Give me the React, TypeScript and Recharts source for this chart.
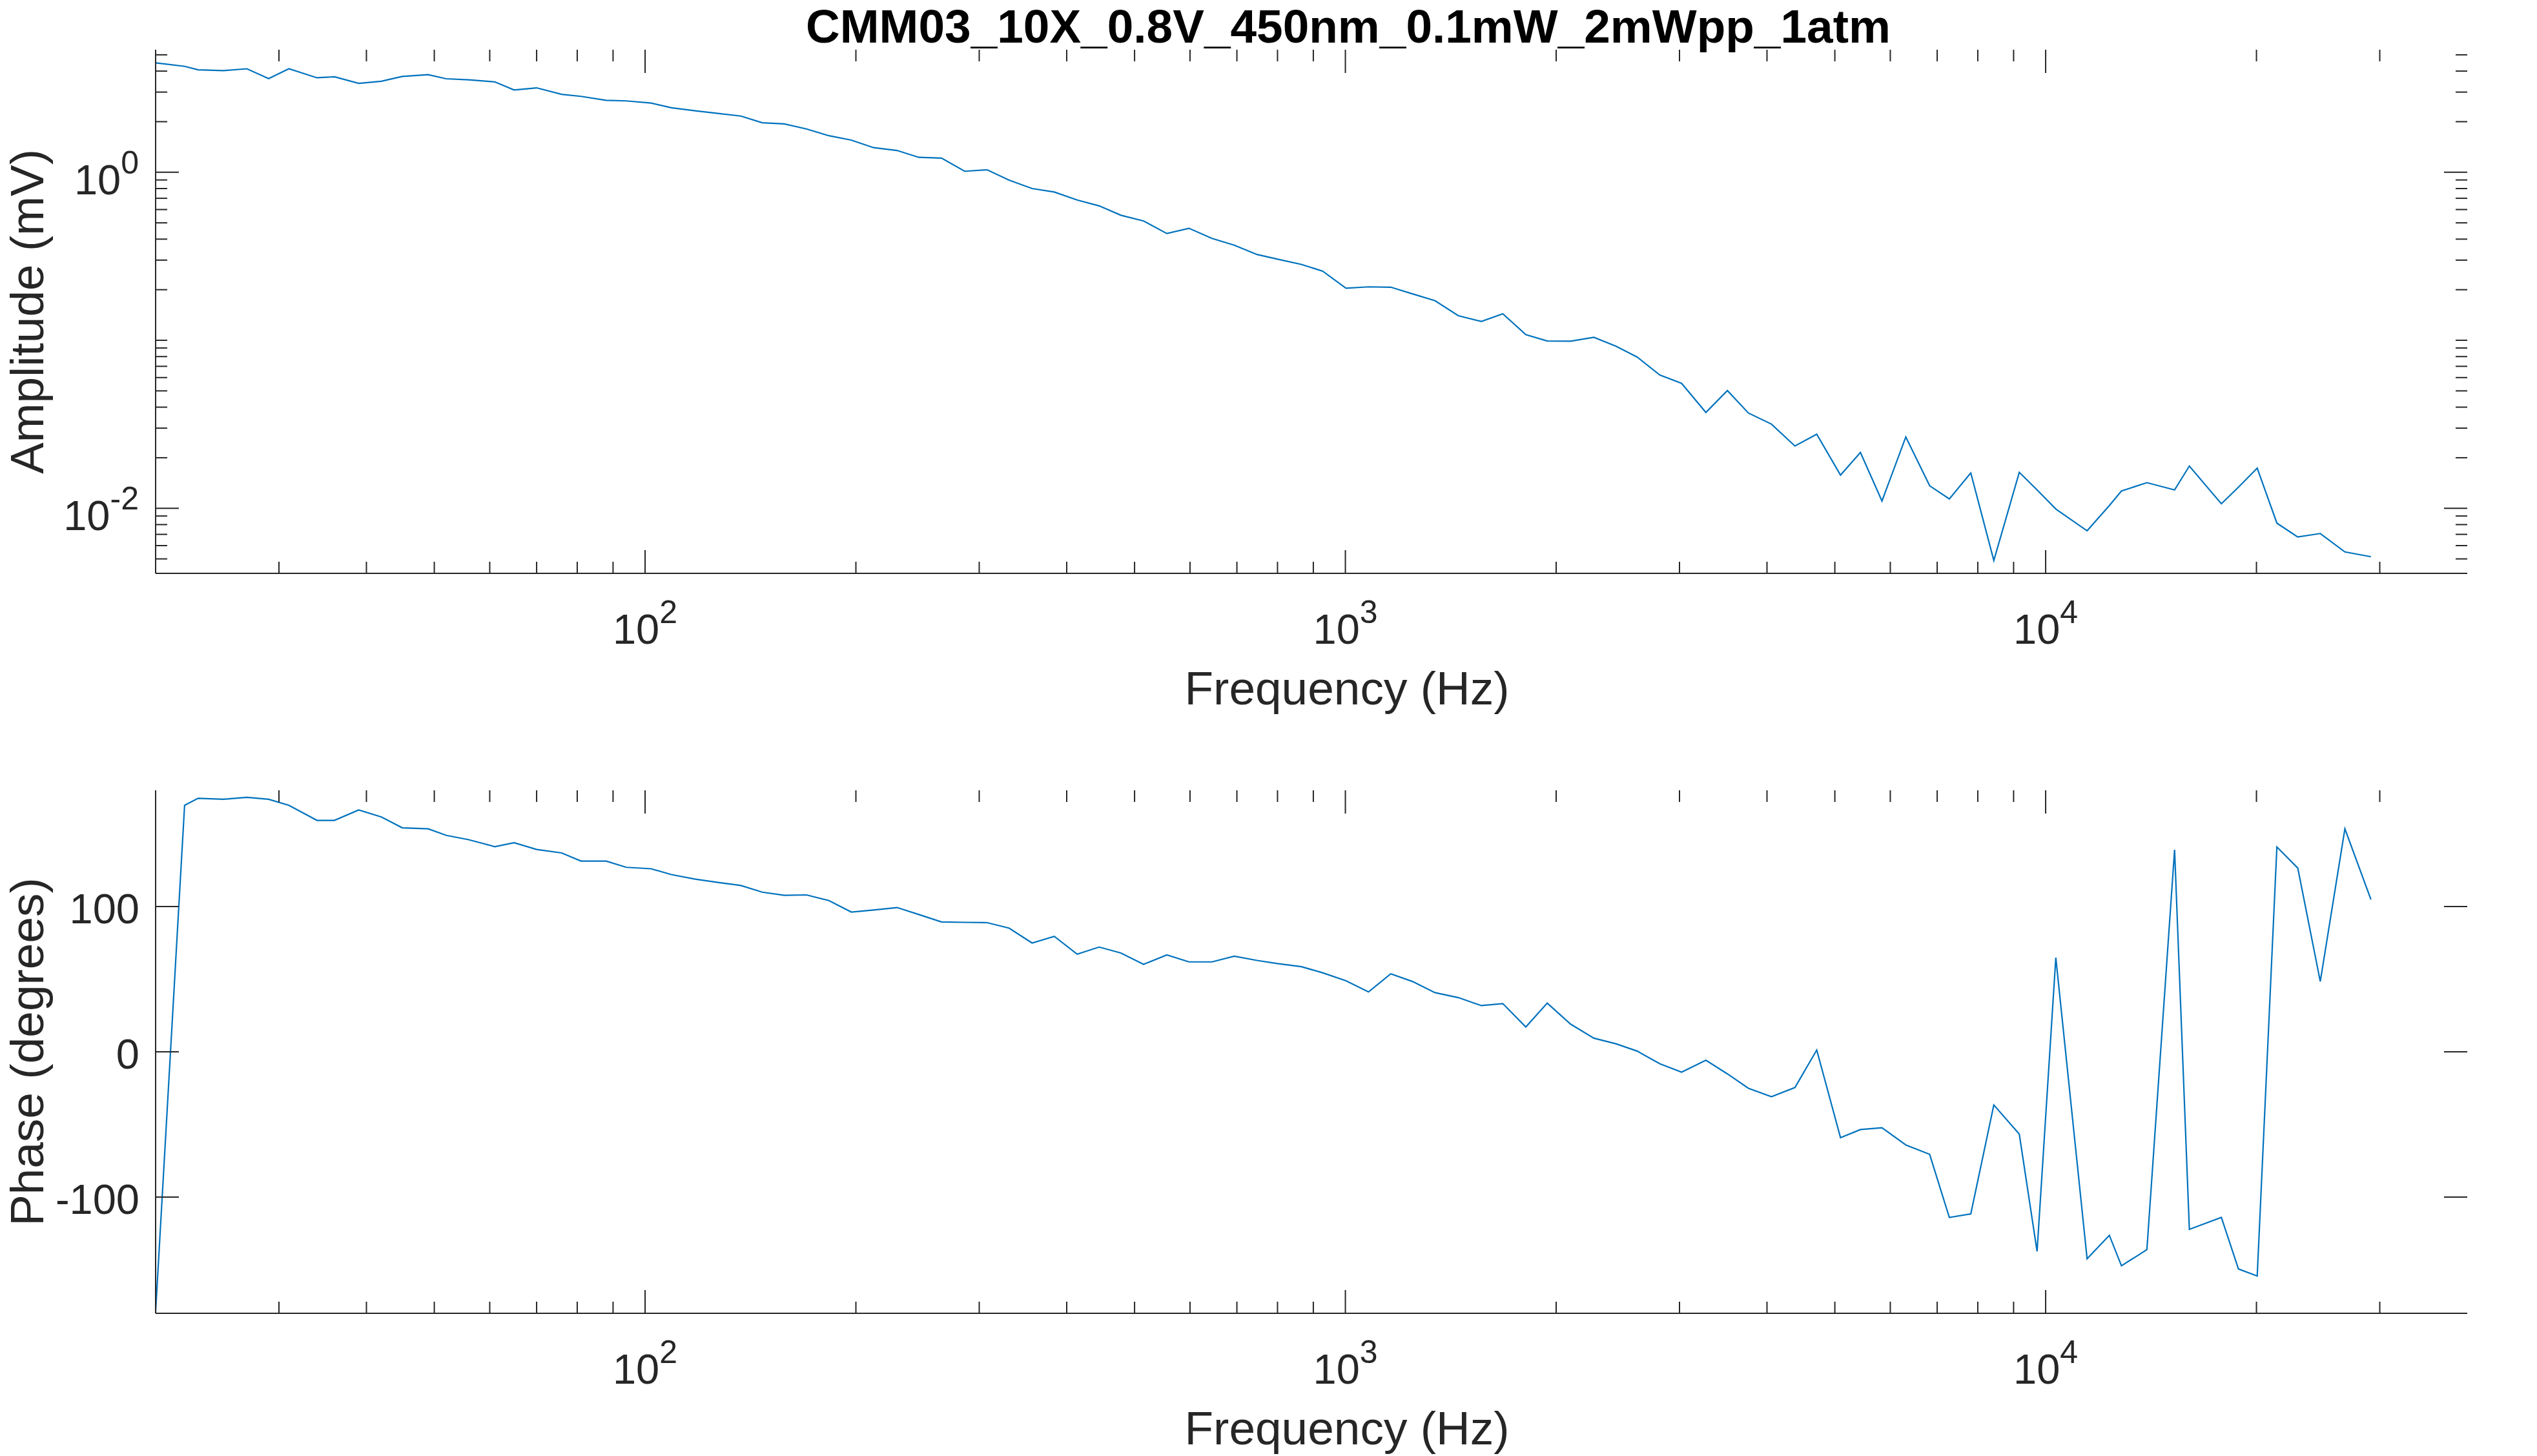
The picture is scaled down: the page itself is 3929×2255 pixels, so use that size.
import React from "react";
import { Line, LineChart, XAxis, YAxis } from "recharts";

// frequency sweep points (Hz)
const FREQ = [
  20, 22, 23, 25, 27, 29, 31, 34, 36, 39,
  42, 45, 49, 52, 56, 61, 65, 70, 76, 81,
  88, 94, 102, 109, 118, 127, 137, 147, 158, 170,
  183, 197, 212, 229, 246, 265, 286, 308, 331, 357,
  384, 414, 445, 478, 515, 556, 598, 645, 694, 748,
  800, 865, 928, 1002, 1079, 1161, 1247, 1343, 1450, 1564,
  1678, 1810, 1942, 2098, 2264, 2435, 2610, 2812, 3021, 3272,
  3512, 3763, 4059, 4385, 4711, 5094, 5439, 5838, 6314, 6829,
  7286, 7818, 8433, 9170, 9722, 10340, 11460, 12330, 12830, 13950,
  15280, 16040, 17820, 18850, 20050, 21390, 22910, 24670, 26750, 29140,
];

// amplitude (mV)
const AMP = [
  4.48, 4.27, 4.07, 4.03, 4.13, 3.61, 4.13, 3.65, 3.7, 3.38,
  3.48, 3.72, 3.81, 3.6, 3.55, 3.45, 3.09, 3.18, 2.91, 2.83,
  2.68, 2.66, 2.58, 2.42, 2.32, 2.24, 2.16, 1.97, 1.94, 1.81,
  1.65, 1.554, 1.401, 1.348, 1.227, 1.215, 1.014, 1.034, 0.897, 0.8,
  0.763, 0.684, 0.631, 0.555, 0.513, 0.432, 0.464, 0.404, 0.368, 0.324,
  0.304, 0.283, 0.258, 0.204, 0.208, 0.207, 0.189, 0.172, 0.14, 0.1295,
  0.1438, 0.1081, 0.099, 0.0989, 0.1041, 0.0921, 0.0795, 0.0621, 0.0554, 0.0372,
  0.0502, 0.0369, 0.0317, 0.0235, 0.0276, 0.01577, 0.0215, 0.01105, 0.0266, 0.01362,
  0.01137, 0.01623, 0.00489, 0.01638, 0.01287, 0.00991, 0.00735, 0.01039, 0.01268, 0.01421,
  0.01287, 0.01785, 0.01064, 0.01336, 0.01734, 0.00816, 0.00675, 0.00708, 0.0055, 0.00515,
];

// phase (degrees)
const PHASE = [
  -179, 169.7, 174.5, 173.8, 175.2, 173.8, 169.7, 159.3, 159.3, 166.5,
  161.7, 154.2, 153.5, 149, 146, 141.2, 143.9, 139.3, 136.9, 131.3,
  131.3, 127, 126, 122, 118.8, 116.6, 114.5, 109.9, 107.7, 108,
  104.1, 96.2, 97.6, 99.3, 94.5, 89.4, 89.1, 88.9, 85.1, 74.9,
  79.5, 67.2, 72.1, 68, 60.2, 66.7, 61.9, 61.9, 65.8, 62.9,
  60.7, 58.6, 54.4, 48.9, 41.2, 53.7, 48.4, 40.7, 37.3, 31.8,
  33.2, 17.1, 33.5, 19, 9.4, 5.5, 0.5, -8.2, -14, -5.8,
  -15.2, -25.1, -30.9, -24.6, 1.2, -59.1, -53.5, -52.3, -64.1, -70.6,
  -114, -111.6, -36.6, -56.7, -137.4, 64.8, -142.5, -126.3, -147.3, -136.2,
  139.1, -122.2, -114, -149.5, -154.3, 141, 126.5, 48.4, 153.5, 104.8,
];

const X_DOMAIN = [20, 40000];
const X_MAJOR = [100, 1000, 10000];
const X_TICKS = [
  30, 40, 50, 60, 70, 80, 90, 100,
  200, 300, 400, 500, 600, 700, 800, 900, 1000,
  2000, 3000, 4000, 5000, 6000, 7000, 8000, 9000, 10000,
  20000, 30000,
];
const AMP_DOMAIN = [0.004101, 5.362];
const AMP_MAJOR = [0.01, 1];
const AMP_TICKS = [
  0.005, 0.006, 0.007, 0.008, 0.009, 0.01,
  0.02, 0.03, 0.04, 0.05, 0.06, 0.07, 0.08, 0.09, 0.1,
  0.2, 0.3, 0.4, 0.5, 0.6, 0.7, 0.8, 0.9, 1,
  2, 3, 4, 5,
];
const PHASE_DOMAIN = [-180, 180];
const PHASE_TICKS = [-100, 0, 100];

const W = 3929;
const LEFT = 241;
const RIGHT = 3821;
const INK = "#262626";
const BLUE = "#0072BD";
const FONT = '"Liberation Sans", Arial, Helvetica, sans-serif';
const LABEL_X = 2086;

const ampData = FREQ.map((f, i) => ({ f, amp: AMP[i] }));
const phaseData = FREQ.map((f, i) => ({ f, phase: PHASE[i] }));

const axisLine = { stroke: INK, strokeWidth: 2 };

const xTick = (top: number, bottom: number) => (p: any) => {
  const v = p.payload.value;
  const major = X_MAJOR.includes(v);
  const len = major ? 36 : 18;
  return (
    <g>
      <line x1={p.x} x2={p.x} y1={bottom} y2={bottom - len} stroke={INK} strokeWidth={2} />
      <line x1={p.x} x2={p.x} y1={top} y2={top + len} stroke={INK} strokeWidth={2} />
      {major && (
        <text x={p.x} y={bottom + 109} textAnchor="middle" fontSize={65} fill={INK} fontFamily={FONT}>
          10
          <tspan dy={-32} fontSize={50}>
            {Math.round(Math.log10(v))}
          </tspan>
        </text>
      )}
    </g>
  );
};

const ampTick = (p: any) => {
  const v = p.payload.value;
  const major = AMP_MAJOR.includes(v);
  const len = major ? 36 : 18;
  return (
    <g>
      <line x1={LEFT} x2={LEFT + len} y1={p.y} y2={p.y} stroke={INK} strokeWidth={2} />
      <line x1={RIGHT} x2={RIGHT - len} y1={p.y} y2={p.y} stroke={INK} strokeWidth={2} />
      {major && (
        <text x={215} y={p.y + 34} textAnchor="end" fontSize={65} fill={INK} fontFamily={FONT}>
          10
          <tspan dy={-32} fontSize={50}>
            {Math.round(Math.log10(v))}
          </tspan>
        </text>
      )}
    </g>
  );
};

const phaseTick = (p: any) => (
  <g>
    <line x1={LEFT} x2={LEFT + 36} y1={p.y} y2={p.y} stroke={INK} strokeWidth={2} />
    <line x1={RIGHT} x2={RIGHT - 36} y1={p.y} y2={p.y} stroke={INK} strokeWidth={2} />
    <text x={216} y={p.y + 26} textAnchor="end" fontSize={65} fill={INK} fontFamily={FONT}>
      {p.payload.value}
    </text>
  </g>
);

function XLabel({ baseY }: { baseY: number }) {
  return (
    <text x={LABEL_X} y={baseY} textAnchor="middle" fontSize={73} fill={INK} fontFamily={FONT}>
      Frequency (Hz)
    </text>
  );
}

function YLabel({ lx, ly, text }: { lx: number; ly: number; text: string }) {
  return (
    <text
      x={lx}
      y={ly}
      transform={`rotate(-90, ${lx}, ${ly})`}
      textAnchor="middle"
      fontSize={73}
      fill={INK}
      fontFamily={FONT}
    >
      {text}
    </text>
  );
}

export default function App() {
  const h1 = 1130;
  const top1 = 77;
  const bottom1 = 888;
  const h2 = 1125;
  const top2 = 94;
  const bottom2 = 904;

  return (
    <div
      style={{
        position: "absolute",
        left: 0,
        top: 0,
        width: W,
        height: 2255,
        background: "#fff",
        overflow: "hidden",
        fontFamily: FONT,
      }}
    >
      <svg width={W} height={110} style={{ position: "absolute", left: 0, top: 0 }}>
        <text x={2088} y={66} textAnchor="middle" fontSize={73} fontWeight="bold" fill="#000" fontFamily={FONT}>
          CMM03_10X_0.8V_450nm_0.1mW_2mWpp_1atm
        </text>
      </svg>

      <div style={{ position: "absolute", left: 0, top: 0 }}>
        <LineChart width={W} height={h1} data={ampData} margin={{ top: top1, right: W - RIGHT, bottom: 0, left: 0 }}>
          <XAxis
            dataKey="f"
            type="number"
            scale="log"
            domain={X_DOMAIN}
            allowDataOverflow
            ticks={X_TICKS}
            interval={0}
            tick={xTick(top1, bottom1)}
            tickLine={false}
            axisLine={axisLine}
            height={h1 - bottom1}
            label={<XLabel baseY={bottom1 + 203} />}
          />
          <XAxis
            xAxisId="top"
            orientation="top"
            type="number"
            scale="log"
            domain={X_DOMAIN}
            allowDataOverflow
            height={0}
            tick={false}
            tickLine={false}
            axisLine={axisLine}
          />
          <YAxis
            type="number"
            scale="log"
            domain={AMP_DOMAIN}
            allowDataOverflow
            ticks={AMP_TICKS}
            interval={0}
            width={LEFT}
            tick={ampTick}
            tickLine={false}
            axisLine={axisLine}
            label={<YLabel lx={67} ly={(top1 + bottom1) / 2} text="Amplitude (mV)" />}
          />
          <YAxis
            yAxisId="right"
            orientation="right"
            type="number"
            scale="log"
            domain={AMP_DOMAIN}
            allowDataOverflow
            width={0}
            tick={false}
            tickLine={false}
            axisLine={axisLine}
          />
          <Line
            type="linear"
            dataKey="amp"
            stroke={BLUE}
            strokeWidth={2.2}
            dot={false}
            isAnimationActive={false}
          />
        </LineChart>
      </div>

      <div style={{ position: "absolute", left: 0, top: h1 }}>
        <LineChart width={W} height={h2} data={phaseData} margin={{ top: top2, right: W - RIGHT, bottom: 0, left: 0 }}>
          <XAxis
            dataKey="f"
            type="number"
            scale="log"
            domain={X_DOMAIN}
            allowDataOverflow
            ticks={X_TICKS}
            interval={0}
            tick={xTick(top2, bottom2)}
            tickLine={false}
            axisLine={axisLine}
            height={h2 - bottom2}
            label={<XLabel baseY={bottom2 + 203} />}
          />
          <XAxis
            xAxisId="top"
            orientation="top"
            type="number"
            scale="log"
            domain={X_DOMAIN}
            allowDataOverflow
            height={0}
            tick={false}
            tickLine={false}
            axisLine={axisLine}
          />
          <YAxis
            type="number"
            domain={PHASE_DOMAIN}
            allowDataOverflow
            ticks={PHASE_TICKS}
            interval={0}
            width={LEFT}
            tick={phaseTick}
            tickLine={false}
            axisLine={axisLine}
            label={<YLabel lx={67} ly={(top2 + bottom2) / 2} text="Phase (degrees)" />}
          />
          <YAxis
            yAxisId="right"
            orientation="right"
            type="number"
            domain={PHASE_DOMAIN}
            allowDataOverflow
            width={0}
            tick={false}
            tickLine={false}
            axisLine={axisLine}
          />
          <Line
            type="linear"
            dataKey="phase"
            stroke={BLUE}
            strokeWidth={2.2}
            dot={false}
            isAnimationActive={false}
          />
        </LineChart>
      </div>
    </div>
  );
}
